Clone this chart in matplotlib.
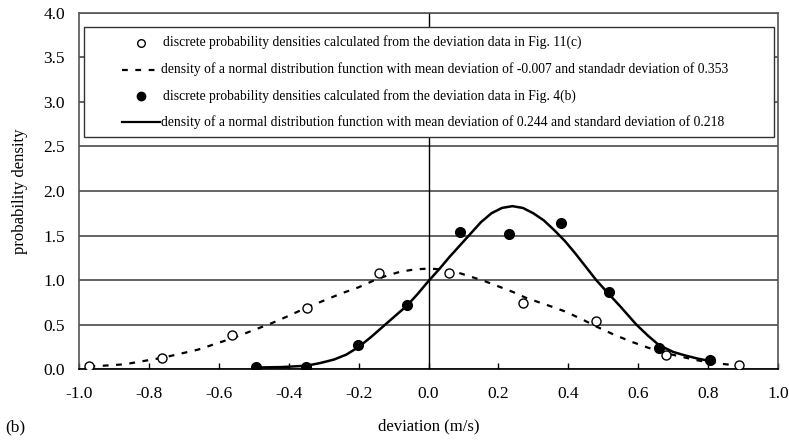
import matplotlib
matplotlib.use("Agg")
import matplotlib.pyplot as plt
import numpy as np
from matplotlib.patches import Rectangle

plt.rcParams['font.family'] = ['Liberation Serif', 'DejaVu Serif']

# discrete densities, Fig. 11(c) data (open circles)
open_x = [-0.970, -0.762, -0.561, -0.349, -0.141, 0.058, 0.269, 0.480, 0.679, 0.889]
open_y = [0.037, 0.13, 0.39, 0.69, 1.076, 1.083, 0.743, 0.538, 0.164, 0.045]

# discrete densities, Fig. 4(b) data (filled circles)
fill_x = [-0.493, -0.350, -0.201, -0.062, 0.090, 0.230, 0.378, 0.517, 0.660, 0.806]
fill_y = [0.026, 0.026, 0.272, 0.717, 1.543, 1.52, 1.644, 0.87, 0.239, 0.104]

# normal fit, mean -0.007, sd 0.353 (dashed)
fit1_x = [-0.97, -0.87, -0.76, -0.66, -0.56, -0.45, -0.40, -0.35, -0.30, -0.25, -0.20,
          -0.16, -0.12, -0.08, -0.04, 0.0, 0.04, 0.08, 0.12, 0.16, 0.20, 0.24, 0.28,
          0.34, 0.39, 0.44, 0.48, 0.53, 0.58, 0.63, 0.68, 0.73, 0.77, 0.83, 0.89]
fit1_y = [0.03, 0.056, 0.13, 0.22, 0.35, 0.515, 0.60, 0.69, 0.77, 0.85, 0.92,
          0.99, 1.05, 1.095, 1.12, 1.13, 1.12, 1.09, 1.04, 0.99, 0.93, 0.87, 0.80,
          0.72, 0.65, 0.56, 0.48, 0.39, 0.31, 0.24, 0.18, 0.135, 0.10, 0.065, 0.04]

# normal fit, mean 0.244, sd 0.218 (solid)
fit2_x = [-0.49, -0.42, -0.35, -0.31, -0.27, -0.235, -0.20, -0.165, -0.13, -0.095, -0.06,
          -0.03, 0.0, 0.03, 0.06, 0.09, 0.12, 0.15, 0.18, 0.21, 0.24, 0.27, 0.30, 0.33,
          0.36, 0.39, 0.42, 0.45, 0.48, 0.51, 0.55, 0.595, 0.63, 0.66, 0.70, 0.73, 0.77, 0.81]
fit2_y = [0.02, 0.025, 0.04, 0.07, 0.11, 0.165, 0.25, 0.36, 0.48, 0.60, 0.72,
          0.85, 0.99, 1.12, 1.26, 1.39, 1.52, 1.65, 1.75, 1.81, 1.83, 1.81, 1.75, 1.67,
          1.56, 1.44, 1.30, 1.15, 1.00, 0.87, 0.70, 0.50, 0.37, 0.27, 0.195, 0.16, 0.12, 0.09]

xticks = [-1.0, -0.8, -0.6, -0.4, -0.2, 0.0, 0.2, 0.4, 0.6, 0.8, 1.0]
xtick_labels = ["-1.0", "-0.8", "-0.6", "-0.4", "-0.2", "0.0", "0.2", "0.4", "0.6", "0.8", "1.0"]
yticks = [0.0, 0.5, 1.0, 1.5, 2.0, 2.5, 3.0, 3.5, 4.0]
ytick_labels = ["0.0", "0.5", "1.0", "1.5", "2.0", "2.5", "3.0", "3.5", "4.0"]

legend_labels = [
    "discrete probability densities calculated from the deviation data in Fig. 11(c)",
    "density of a normal distribution function with mean deviation of -0.007 and standadr deviation of 0.353",
    "discrete probability densities calculated from the deviation data in Fig. 4(b)",
    "density of a normal distribution function with mean deviation of 0.244 and standard deviation of 0.218",
]

W, H = 789, 442
fig = plt.figure(figsize=(W / 100, H / 100), dpi=100)
ax = fig.add_axes([79 / W, 1 - 369.3 / H, 699 / W, 356.6 / H])

ax.set_xlim(-1.0, 1.0)
ax.set_ylim(0.0, 4.0)

dash = (0, (2.6, 3.4))
ax.plot(fit1_x, fit1_y, color='black', lw=1.6, ls=dash, zorder=3)
ax.plot(fit2_x, fit2_y, color='black', lw=1.8, ls='-', zorder=3)
ax.plot(open_x, open_y, ls='none', marker='o', ms=6.5, mfc='white', mec='black', mew=1.0, zorder=4)
ax.plot(fill_x, fill_y, ls='none', marker='o', ms=7, mfc='black', mec='black', zorder=4)

ax.axvline(0, color='black', lw=1.0, zorder=2)

ax.set_yticks(yticks)
ax.set_yticklabels(ytick_labels)
ax.set_xticks(xticks)
ax.set_xticklabels(xtick_labels)
ax.yaxis.grid(True, color='#3a3a3a', lw=1.1)
ax.set_axisbelow(True)
ax.tick_params(axis='y', length=0, pad=10, labelsize=12.5)
ax.tick_params(axis='x', direction='in', length=4, width=1, pad=12, labelsize=12.5)

for side in ['left', 'top', 'right']:
    ax.spines[side].set_color('#555555')
    ax.spines[side].set_linewidth(1.2)
ax.spines['bottom'].set_color('black')
ax.spines['bottom'].set_linewidth(1.2)

ax.set_xlabel("deviation (m/s)", fontsize=12, labelpad=12)
ax.set_ylabel("probability density", fontsize=12, labelpad=11)
fig.text(5 / W, 1 - 427 / H, "(b)", fontsize=12.5, va='center', ha='left')

# legend box drawn by hand, opaque over the grid
tf = fig.transFigure
ax.add_patch(Rectangle((84 / W, 1 - 136.5 / H), 690 / W, 109.5 / H, transform=tf,
                       facecolor='white', edgecolor='#333333', lw=1.0, zorder=10, clip_on=False))
rows = [42.5, 69.5, 96, 122]
hx0, hx1, mx = 122, 160, 141
ax.plot([mx / W], [1 - rows[0] / H], transform=tf, marker='o', ms=5.5, mfc='white',
        mec='black', mew=1.0, ls='none', zorder=11, clip_on=False)
ax.plot([hx0 / W, hx1 / W], [1 - rows[1] / H] * 2, transform=tf, color='black', lw=1.6,
        ls=dash, zorder=11, clip_on=False)
ax.plot([mx / W], [1 - rows[2] / H], transform=tf, marker='o', ms=6, mfc='black',
        mec='black', ls='none', zorder=11, clip_on=False)
ax.plot([hx0 / W, hx1 / W], [1 - rows[3] / H] * 2, transform=tf, color='black', lw=1.6,
        zorder=11, clip_on=False)
for i, lab in enumerate(legend_labels):
    tx = 163 if i % 2 == 0 else 161
    fig.text(tx / W, 1 - rows[i] / H, lab, fontsize=9.85, va='center', ha='left', zorder=12)

fig.savefig("out.png", dpi=100)
